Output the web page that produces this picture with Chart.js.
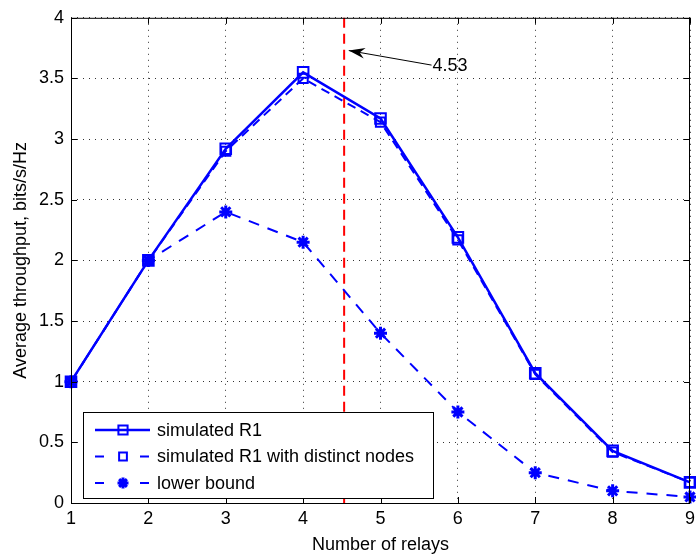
<!DOCTYPE html>
<html>
<head>
<meta charset="utf-8">
<script src="https://cdn.jsdelivr.net/npm/chart.js@4.4.1/dist/chart.umd.min.js"></script>
<style>
  html, body { margin: 0; padding: 0; background: #fff; }
  #wrap { width: 696px; height: 554px; }
</style>
</head>
<body>
<div id="wrap"><canvas id="relayChart" width="696" height="554"></canvas></div>
<script>
// data
const relays = [1, 2, 3, 4, 5, 6, 7, 8, 9];
const simR1 = [1, 2, 2.92, 3.55, 3.17, 2.19, 1.07, 0.43, 0.17];
const simR1Distinct = [1, 2, 2.9, 3.5, 3.14, 2.17, 1.06, 0.42, 0.17];
const lowerBound = [1, 2, 2.4, 2.15, 1.4, 0.75, 0.25, 0.1, 0.05];
const seriesNames = ["simulated R1", "simulated R1 with distinct nodes", "lower bound"];

// vertical marker and its annotation
const optimumX = 4.53;
const arrowTip = { x: 4.59, y: 3.73 };
const arrowTail = { x: 5.66, y: 3.61 };

const FONT = "'Liberation Sans', Arial, Helvetica, sans-serif";
const BLUE = "#0000ff";

const toPoints = ys => relays.map((x, i) => ({ x, y: ys[i] }));

// red dashed line at the optimum
const markerLine = {
  id: "markerLine",
  beforeDatasetsDraw(chart) {
    const { ctx, chartArea, scales } = chart;
    const px = scales.x.getPixelForValue(optimumX);
    ctx.save();
    ctx.strokeStyle = "#ff0000";
    ctx.lineWidth = 2;
    ctx.setLineDash([10, 6]);
    ctx.beginPath();
    ctx.moveTo(px, chartArea.top);
    ctx.lineTo(px, chartArea.bottom);
    ctx.stroke();
    ctx.restore();
  }
};

// box, inward ticks, arrow, legend
const frame = {
  id: "frame",
  afterDraw(chart) {
    const { ctx, chartArea: a, scales } = chart;
    ctx.save();
    ctx.strokeStyle = "#000";
    ctx.lineWidth = 1;
    ctx.setLineDash([]);
    ctx.strokeRect(a.left + 0.5, a.top + 0.5, a.right - a.left - 1, a.bottom - a.top);

    ctx.beginPath();
    scales.x.ticks.forEach(t => {
      const px = Math.round(scales.x.getPixelForValue(t.value)) + 0.5;
      ctx.moveTo(px, a.bottom); ctx.lineTo(px, a.bottom - 6);
      ctx.moveTo(px, a.top); ctx.lineTo(px, a.top + 6);
    });
    scales.y.ticks.forEach(t => {
      const py = Math.round(scales.y.getPixelForValue(t.value)) + 0.5;
      ctx.moveTo(a.left, py); ctx.lineTo(a.left + 6, py);
      ctx.moveTo(a.right, py); ctx.lineTo(a.right - 6, py);
    });
    ctx.stroke();

    // arrow pointing at the red line
    const tx = scales.x.getPixelForValue(arrowTip.x), ty = scales.y.getPixelForValue(arrowTip.y);
    const sx = scales.x.getPixelForValue(arrowTail.x), sy = scales.y.getPixelForValue(arrowTail.y);
    const ang = Math.atan2(ty - sy, tx - sx);
    ctx.beginPath();
    ctx.moveTo(sx, sy);
    ctx.lineTo(tx, ty);
    ctx.stroke();
    const hl = 17, hw = 0.32;
    ctx.fillStyle = "#000";
    ctx.beginPath();
    ctx.moveTo(tx, ty);
    ctx.lineTo(tx - hl * Math.cos(ang - hw), ty - hl * Math.sin(ang - hw));
    ctx.lineTo(tx - 11 * Math.cos(ang), ty - 11 * Math.sin(ang));
    ctx.lineTo(tx - hl * Math.cos(ang + hw), ty - hl * Math.sin(ang + hw));
    ctx.closePath();
    ctx.fill();
    ctx.font = "18px " + FONT;
    ctx.textBaseline = "middle";
    ctx.textAlign = "left";
    ctx.fillText(String(optimumX), sx + 1, sy + 1);

    // legend box, lower left
    const lx = a.left + 12, ly = a.bottom - 91, lw = 350, lh = 86;
    ctx.fillStyle = "#fff";
    ctx.fillRect(lx, ly, lw, lh);
    ctx.strokeRect(lx + 0.5, ly + 0.5, lw, lh);
    chart.data.datasets.forEach((ds, i) => {
      const yy = ly + 18 + i * 26.5;
      ctx.strokeStyle = ds.borderColor;
      ctx.lineWidth = ds.borderWidth;
      ctx.setLineDash(ds.borderDash.length ? [9, 36] : []);
      ctx.beginPath();
      ctx.moveTo(lx + 12, yy);
      ctx.lineTo(lx + 67, yy);
      ctx.stroke();
      ctx.setLineDash([]);
      ctx.lineWidth = ds.pointBorderWidth;
      ctx.fillStyle = ds.pointBackgroundColor;
      ctx.strokeStyle = ds.pointBorderColor;
      Chart.helpers.drawPoint(ctx, {
        pointStyle: ds.pointStyle, rotation: 0,
        borderWidth: ds.pointBorderWidth, radius: ds.pointRadius - 1
      }, lx + 40, yy);
      ctx.fillStyle = "#000";
      ctx.font = "18px " + FONT;
      ctx.fillText(ds.label, lx + 74, yy + 1);
    });
    ctx.restore();
  }
};

new Chart(document.getElementById("relayChart"), {
  type: "line",
  data: {
    datasets: [
      {
        label: seriesNames[0], data: toPoints(simR1),
        borderColor: BLUE, borderWidth: 2.5, borderDash: [],
        pointStyle: "rect", pointRadius: 7.5, pointBorderWidth: 2,
        pointBorderColor: BLUE, pointBackgroundColor: "rgba(0,0,0,0)", clip: false
      },
      {
        label: seriesNames[1], data: toPoints(simR1Distinct),
        borderColor: BLUE, borderWidth: 2, borderDash: [9, 6],
        pointStyle: "rect", pointRadius: 6.5, pointBorderWidth: 2,
        pointBorderColor: BLUE, pointBackgroundColor: "rgba(0,0,0,0)", clip: false
      },
      {
        label: seriesNames[2], data: toPoints(lowerBound),
        borderColor: BLUE, borderWidth: 2, borderDash: [11, 9],
        pointStyle: "star", pointRadius: 6.5, pointBorderWidth: 3,
        pointBorderColor: BLUE, pointBackgroundColor: BLUE, clip: false
      }
    ]
  },
  options: {
    responsive: false,
    animation: false,
    layout: { autoPadding: false, padding: { top: 15, right: 6, left: 0, bottom: 0 } },
    plugins: { legend: { display: false }, tooltip: { enabled: false } },
    scales: {
      x: {
        type: "linear", min: 1, max: 9,
        ticks: { stepSize: 1, color: "#000", font: { family: FONT, size: 18 }, padding: 5, maxRotation: 0 },
        grid: { color: "#333", tickLength: 0, drawTicks: false },
        border: { display: false, dash: [1, 5] },
        title: { display: true, text: "Number of relays", color: "#000", font: { family: FONT, size: 18 }, padding: { top: 0, bottom: -2 } },
        afterFit(scale) { scale.height = 51; scale.paddingRight = 0; }
      },
      y: {
        min: 0, max: 4,
        ticks: {
          stepSize: 0.5, color: "#000", font: { family: FONT, size: 18 }, padding: 7,
          callback: v => String(v)
        },
        grid: { color: "#333", tickLength: 0, drawTicks: false },
        border: { display: false, dash: [1, 5] },
        title: { display: true, text: "Average throughput, bits/s/Hz", color: "#000", font: { family: FONT, size: 18 }, padding: { top: 10, bottom: 0 } },
        afterFit(scale) { scale.width = 71; }
      }
    }
  },
  plugins: [markerLine, frame]
});
</script>
</body>
</html>
